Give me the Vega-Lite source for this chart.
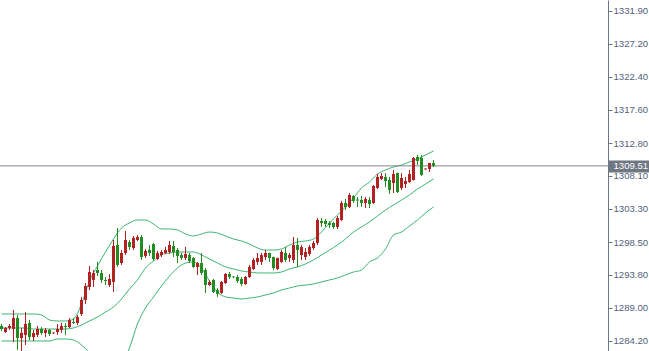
{
  "$schema": "https://vega.github.io/schema/vega-lite/v6.json",
  "width": 608,
  "height": 351,
  "autosize": "none",
  "padding": {"left": 0, "top": 0, "right": 41, "bottom": 0},
  "background": "white",
  "config": {"view": {"stroke": null}},
  "datasets": {
    "candles": [
      {"i":0,"o":1286.37,"h":1286.66,"l":1285.65,"c":1285.93},
      {"i":1,"o":1285.50,"h":1286.22,"l":1285.36,"c":1286.08},
      {"i":2,"o":1286.08,"h":1286.66,"l":1285.79,"c":1286.37},
      {"i":3,"o":1285.93,"h":1288.68,"l":1284.06,"c":1287.52},
      {"i":4,"o":1287.52,"h":1287.96,"l":1282.90,"c":1284.63},
      {"i":5,"o":1284.63,"h":1286.08,"l":1282.75,"c":1285.36},
      {"i":6,"o":1285.07,"h":1288.39,"l":1283.62,"c":1286.66},
      {"i":7,"o":1286.80,"h":1287.23,"l":1284.34,"c":1284.78},
      {"i":8,"o":1284.78,"h":1285.79,"l":1284.20,"c":1285.36},
      {"i":9,"o":1285.07,"h":1286.37,"l":1284.78,"c":1285.93},
      {"i":10,"o":1285.93,"h":1286.22,"l":1285.07,"c":1285.36},
      {"i":11,"o":1285.36,"h":1286.08,"l":1284.78,"c":1285.79},
      {"i":12,"o":1285.79,"h":1285.93,"l":1284.92,"c":1285.21},
      {"i":13,"o":1285.30,"h":1285.45,"l":1285.21,"c":1285.40},
      {"i":14,"o":1285.50,"h":1286.66,"l":1285.07,"c":1285.93},
      {"i":15,"o":1285.79,"h":1286.80,"l":1285.36,"c":1286.37},
      {"i":16,"o":1286.37,"h":1286.80,"l":1285.07,"c":1286.22},
      {"i":17,"o":1286.22,"h":1287.52,"l":1286.08,"c":1287.23},
      {"i":18,"o":1286.95,"h":1287.52,"l":1286.66,"c":1286.80},
      {"i":19,"o":1286.80,"h":1287.96,"l":1286.51,"c":1287.67},
      {"i":20,"o":1288.10,"h":1290.56,"l":1287.81,"c":1290.13},
      {"i":21,"o":1290.13,"h":1292.58,"l":1289.55,"c":1292.15},
      {"i":22,"o":1292.01,"h":1295.04,"l":1291.57,"c":1294.17},
      {"i":23,"o":1293.02,"h":1294.46,"l":1292.01,"c":1294.03},
      {"i":24,"o":1294.46,"h":1295.62,"l":1293.59,"c":1294.03},
      {"i":25,"o":1294.03,"h":1294.46,"l":1292.58,"c":1293.02},
      {"i":26,"o":1293.02,"h":1293.45,"l":1292.29,"c":1292.87},
      {"i":27,"o":1292.29,"h":1293.88,"l":1292.01,"c":1293.16},
      {"i":28,"o":1292.73,"h":1298.80,"l":1291.28,"c":1297.93},
      {"i":29,"o":1298.08,"h":1300.53,"l":1294.90,"c":1295.19},
      {"i":30,"o":1295.47,"h":1297.35,"l":1295.19,"c":1296.92},
      {"i":31,"o":1296.92,"h":1300.10,"l":1296.63,"c":1298.80},
      {"i":32,"o":1298.51,"h":1298.80,"l":1297.35,"c":1297.79},
      {"i":33,"o":1297.64,"h":1299.38,"l":1297.35,"c":1299.09},
      {"i":34,"o":1298.80,"h":1299.52,"l":1298.65,"c":1299.23},
      {"i":35,"o":1299.23,"h":1299.52,"l":1295.91,"c":1296.34},
      {"i":36,"o":1296.49,"h":1297.50,"l":1296.20,"c":1297.21},
      {"i":37,"o":1297.35,"h":1298.08,"l":1296.49,"c":1296.92},
      {"i":38,"o":1298.22,"h":1298.36,"l":1295.76,"c":1296.05},
      {"i":39,"o":1296.05,"h":1297.21,"l":1295.91,"c":1296.92},
      {"i":40,"o":1296.63,"h":1297.35,"l":1296.34,"c":1297.06},
      {"i":41,"o":1296.92,"h":1297.79,"l":1296.78,"c":1297.35},
      {"i":42,"o":1297.06,"h":1298.65,"l":1296.78,"c":1298.08},
      {"i":43,"o":1297.93,"h":1298.65,"l":1296.34,"c":1297.06},
      {"i":44,"o":1297.35,"h":1297.64,"l":1295.47,"c":1296.49},
      {"i":45,"o":1296.63,"h":1296.92,"l":1295.91,"c":1296.20},
      {"i":46,"o":1296.20,"h":1297.79,"l":1295.91,"c":1296.78},
      {"i":47,"o":1296.63,"h":1296.92,"l":1295.47,"c":1295.76},
      {"i":48,"o":1296.20,"h":1296.34,"l":1294.75,"c":1294.90},
      {"i":49,"o":1294.90,"h":1295.62,"l":1293.74,"c":1295.47},
      {"i":50,"o":1295.47,"h":1296.92,"l":1293.74,"c":1294.03},
      {"i":51,"o":1294.46,"h":1294.75,"l":1291.14,"c":1292.29},
      {"i":52,"o":1292.29,"h":1293.02,"l":1292.15,"c":1292.73},
      {"i":53,"o":1293.02,"h":1293.16,"l":1291.14,"c":1291.28},
      {"i":54,"o":1291.57,"h":1291.86,"l":1290.56,"c":1291.00},
      {"i":55,"o":1291.14,"h":1292.87,"l":1291.00,"c":1292.73},
      {"i":56,"o":1292.58,"h":1294.03,"l":1292.44,"c":1293.88},
      {"i":57,"o":1293.88,"h":1294.17,"l":1293.16,"c":1293.45},
      {"i":58,"o":1293.50,"h":1293.59,"l":1293.31,"c":1293.40},
      {"i":59,"o":1293.45,"h":1293.74,"l":1292.58,"c":1292.87},
      {"i":60,"o":1293.16,"h":1293.45,"l":1292.15,"c":1292.44},
      {"i":61,"o":1292.44,"h":1293.59,"l":1292.29,"c":1293.45},
      {"i":62,"o":1293.45,"h":1295.19,"l":1293.31,"c":1294.90},
      {"i":63,"o":1294.61,"h":1296.20,"l":1294.46,"c":1295.91},
      {"i":64,"o":1295.62,"h":1296.92,"l":1295.19,"c":1296.20},
      {"i":65,"o":1295.62,"h":1296.92,"l":1295.19,"c":1296.63},
      {"i":66,"o":1296.34,"h":1297.35,"l":1295.91,"c":1296.92},
      {"i":67,"o":1296.92,"h":1296.95,"l":1295.62,"c":1296.20},
      {"i":68,"o":1296.34,"h":1296.40,"l":1294.46,"c":1294.75},
      {"i":69,"o":1294.61,"h":1296.25,"l":1294.46,"c":1296.20},
      {"i":70,"o":1295.62,"h":1297.35,"l":1295.47,"c":1297.06},
      {"i":71,"o":1296.92,"h":1297.79,"l":1295.62,"c":1295.91},
      {"i":72,"o":1296.20,"h":1296.92,"l":1295.62,"c":1296.63},
      {"i":73,"o":1295.91,"h":1299.23,"l":1295.47,"c":1298.08},
      {"i":74,"o":1298.08,"h":1299.09,"l":1294.90,"c":1297.35},
      {"i":75,"o":1296.63,"h":1298.08,"l":1295.91,"c":1297.79},
      {"i":76,"o":1296.34,"h":1297.64,"l":1295.91,"c":1297.06},
      {"i":77,"o":1296.78,"h":1298.08,"l":1296.49,"c":1297.79},
      {"i":78,"o":1297.64,"h":1298.65,"l":1297.35,"c":1298.36},
      {"i":79,"o":1298.36,"h":1301.98,"l":1298.08,"c":1301.69},
      {"i":80,"o":1301.55,"h":1301.98,"l":1300.68,"c":1301.26},
      {"i":81,"o":1301.55,"h":1301.84,"l":1300.68,"c":1301.11},
      {"i":82,"o":1301.26,"h":1301.55,"l":1300.53,"c":1300.97},
      {"i":83,"o":1301.26,"h":1301.40,"l":1300.39,"c":1300.68},
      {"i":84,"o":1300.68,"h":1302.27,"l":1300.39,"c":1301.98},
      {"i":85,"o":1301.69,"h":1304.44,"l":1301.55,"c":1304.15},
      {"i":86,"o":1304.15,"h":1304.73,"l":1303.13,"c":1303.57},
      {"i":87,"o":1303.57,"h":1305.59,"l":1303.42,"c":1305.30},
      {"i":88,"o":1305.16,"h":1305.30,"l":1304.15,"c":1304.44},
      {"i":89,"o":1304.65,"h":1305.02,"l":1303.57,"c":1304.51},
      {"i":90,"o":1304.58,"h":1305.16,"l":1303.57,"c":1304.15},
      {"i":91,"o":1304.15,"h":1305.02,"l":1303.42,"c":1304.73},
      {"i":92,"o":1304.58,"h":1305.02,"l":1303.42,"c":1304.00},
      {"i":93,"o":1304.15,"h":1306.75,"l":1304.00,"c":1306.60},
      {"i":94,"o":1306.31,"h":1308.34,"l":1306.17,"c":1307.91},
      {"i":95,"o":1307.62,"h":1308.48,"l":1307.47,"c":1308.05},
      {"i":96,"o":1307.91,"h":1308.48,"l":1306.46,"c":1307.33},
      {"i":97,"o":1307.47,"h":1307.91,"l":1305.45,"c":1306.03},
      {"i":98,"o":1307.04,"h":1308.92,"l":1305.59,"c":1308.34},
      {"i":99,"o":1308.48,"h":1308.55,"l":1305.59,"c":1305.74},
      {"i":100,"o":1306.31,"h":1308.48,"l":1306.03,"c":1307.76},
      {"i":101,"o":1306.89,"h":1307.91,"l":1306.31,"c":1307.33},
      {"i":102,"o":1307.18,"h":1308.92,"l":1307.04,"c":1308.34},
      {"i":103,"o":1307.47,"h":1310.80,"l":1307.40,"c":1310.65},
      {"i":104,"o":1310.80,"h":1311.09,"l":1309.64,"c":1310.22},
      {"i":105,"o":1310.65,"h":1311.09,"l":1308.05,"c":1308.20},
      {"i":106,"o":1309.00,"h":1309.15,"l":1308.97,"c":1309.12},
      {"i":107,"o":1309.06,"h":1309.95,"l":1308.63,"c":1309.93},
      {"i":108,"o":1309.93,"h":1310.36,"l":1309.35,"c":1309.51}
    ],
    "bands": [
      {"i":0,"u":1288.10,"m":1286.08,"lo":1284.20},
      {"i":2,"u":1288.10,"m":1286.08,"lo":1284.20},
      {"i":4,"u":1288.10,"m":1286.08,"lo":1284.20},
      {"i":6,"u":1288.10,"m":1286.08,"lo":1284.20},
      {"i":8,"u":1288.10,"m":1285.93,"lo":1284.20},
      {"i":10,"u":1287.96,"m":1285.93,"lo":1284.20},
      {"i":12,"u":1287.23,"m":1285.93,"lo":1284.20},
      {"i":14,"u":1287.09,"m":1285.93,"lo":1284.49},
      {"i":16,"u":1287.09,"m":1285.93,"lo":1284.49},
      {"i":18,"u":1287.38,"m":1286.08,"lo":1284.34},
      {"i":20,"u":1289.55,"m":1286.51,"lo":1283.62},
      {"i":22,"u":1292.87,"m":1287.09,"lo":1282.46},
      {"i":24,"u":1295.04,"m":1287.67,"lo":1280.59},
      {"i":26,"u":1297.06,"m":1288.39,"lo":1279.00},
      {"i":28,"u":1298.94,"m":1289.11,"lo":1278.85},
      {"i":30,"u":1300.53,"m":1290.27,"lo":1280.59},
      {"i":32,"u":1301.26,"m":1291.72,"lo":1283.19},
      {"i":34,"u":1301.69,"m":1293.02,"lo":1286.66},
      {"i":36,"u":1301.69,"m":1294.75,"lo":1288.97},
      {"i":38,"u":1301.11,"m":1295.76,"lo":1290.56},
      {"i":40,"u":1300.39,"m":1296.63,"lo":1292.15},
      {"i":42,"u":1300.39,"m":1296.92,"lo":1293.59},
      {"i":44,"u":1300.24,"m":1297.06,"lo":1294.75},
      {"i":46,"u":1299.67,"m":1297.06,"lo":1295.47},
      {"i":48,"u":1299.38,"m":1297.06,"lo":1295.62},
      {"i":50,"u":1299.67,"m":1296.63,"lo":1294.75},
      {"i":52,"u":1299.95,"m":1296.05,"lo":1292.87},
      {"i":54,"u":1299.81,"m":1295.47,"lo":1291.28},
      {"i":56,"u":1299.38,"m":1294.90,"lo":1290.56},
      {"i":58,"u":1298.94,"m":1294.61,"lo":1290.41},
      {"i":60,"u":1298.65,"m":1294.32,"lo":1290.27},
      {"i":62,"u":1298.22,"m":1294.17,"lo":1290.41},
      {"i":64,"u":1297.64,"m":1294.03,"lo":1290.56},
      {"i":66,"u":1297.35,"m":1294.03,"lo":1290.85},
      {"i":68,"u":1297.35,"m":1294.03,"lo":1291.14},
      {"i":70,"u":1297.50,"m":1294.17,"lo":1291.57},
      {"i":72,"u":1298.08,"m":1294.61,"lo":1291.86},
      {"i":74,"u":1298.51,"m":1294.90,"lo":1292.15},
      {"i":76,"u":1298.65,"m":1295.33,"lo":1292.29},
      {"i":78,"u":1298.94,"m":1295.91,"lo":1292.44},
      {"i":80,"u":1299.95,"m":1296.63,"lo":1292.73},
      {"i":82,"u":1301.26,"m":1297.35,"lo":1293.02},
      {"i":84,"u":1302.41,"m":1298.08,"lo":1293.31},
      {"i":86,"u":1303.57,"m":1298.94,"lo":1293.74},
      {"i":88,"u":1304.87,"m":1299.95,"lo":1294.17},
      {"i":90,"u":1306.31,"m":1300.68,"lo":1294.46},
      {"i":92,"u":1307.18,"m":1301.40,"lo":1295.62},
      {"i":94,"u":1308.34,"m":1302.27,"lo":1296.20},
      {"i":96,"u":1308.92,"m":1303.13,"lo":1297.50},
      {"i":98,"u":1309.35,"m":1303.86,"lo":1299.52},
      {"i":100,"u":1309.64,"m":1304.58,"lo":1299.95},
      {"i":102,"u":1310.07,"m":1305.30,"lo":1300.82},
      {"i":104,"u":1310.51,"m":1306.17,"lo":1301.69},
      {"i":106,"u":1311.09,"m":1306.89,"lo":1302.70},
      {"i":108,"u":1311.66,"m":1307.62,"lo":1303.57}
    ],
    "price": [{"p": 1309.51}]
  },
  "resolve": {"scale": {"x": "shared", "y": "shared"}, "axis": {"y": "independent"}},
  "layer": [
    {
      "data": {"name": "bands"},
      "mark": {"type": "line", "color": "#3cb371", "strokeWidth": 1, "clip": true, "interpolate": "monotone"},
      "encoding": {
        "x": {"field": "i", "type": "quantitative", "scale": {"domain": [-0.375, 151.625], "nice": false, "zero": false}, "axis": null},
        "y": {"field": "u", "type": "quantitative", "scale": {"domain": [1282.75, 1333.49], "nice": false, "zero": false},
          "axis": {"orient": "right", "values": [1331.9, 1327.2, 1322.4, 1317.6, 1312.8, 1308.1, 1303.3, 1298.5, 1293.8, 1289.0, 1284.2],
            "format": ".2f", "tickSize": 4, "labelPadding": 1, "domainColor": "#6b7686", "tickColor": "#6b7686",
            "labelColor": "#52627a", "labelFont": "Liberation Sans", "labelFontSize": 9.6, "grid": false, "title": null,
            "labelOverlap": false, "labelFlush": false, "zindex": 1}}
      }
    },
    {
      "data": {"name": "bands"},
      "mark": {"type": "line", "color": "#3cb371", "strokeWidth": 1, "clip": true, "interpolate": "monotone"},
      "encoding": {
        "x": {"field": "i", "type": "quantitative", "axis": null},
        "y": {"field": "m", "type": "quantitative", "axis": null}
      }
    },
    {
      "data": {"name": "bands"},
      "mark": {"type": "line", "color": "#3cb371", "strokeWidth": 1, "clip": true, "interpolate": "monotone"},
      "encoding": {
        "x": {"field": "i", "type": "quantitative", "axis": null},
        "y": {"field": "lo", "type": "quantitative", "axis": null}
      }
    },
    {
      "data": {"name": "price"},
      "mark": {"type": "rule", "color": "#7d8794", "strokeWidth": 1},
      "encoding": {
        "y": {"field": "p", "type": "quantitative",
          "axis": {"orient": "right", "values": [1309.51], "format": ".2f", "tickSize": 41, "tickWidth": 12,
            "tickColor": "#6e7782", "domain": false, "labelPadding": -36, "labelColor": "white",
            "labelFont": "Liberation Sans", "labelFontSize": 9.6, "labelAlign": "left", "grid": false, "title": null,
            "labelFlush": false, "zindex": 2}}
      }
    },
    {
      "data": {"name": "candles"},
      "mark": {"type": "rule", "strokeWidth": 1, "clip": true},
      "encoding": {
        "x": {"field": "i", "type": "quantitative", "axis": null},
        "y": {"field": "l", "type": "quantitative", "axis": null},
        "y2": {"field": "h"},
        "color": {"condition": {"test": "datum.c >= datum.o", "value": "#b22222"}, "value": "#228b22"}
      }
    },
    {
      "data": {"name": "candles"},
      "mark": {"type": "rule", "strokeWidth": 3, "strokeCap": "butt", "clip": true},
      "encoding": {
        "x": {"field": "i", "type": "quantitative", "axis": null},
        "y": {"field": "o", "type": "quantitative", "axis": null},
        "y2": {"field": "c"},
        "color": {"condition": {"test": "datum.c >= datum.o", "value": "#b22222"}, "value": "#228b22"}
      }
    }
  ]
}
